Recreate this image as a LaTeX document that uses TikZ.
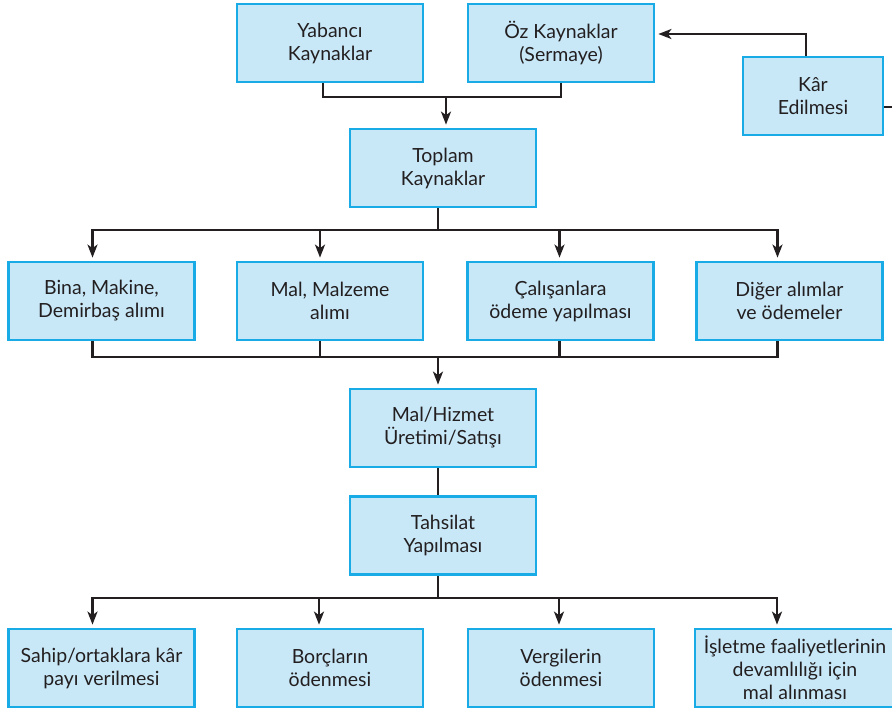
\documentclass[tikz,border=0pt]{standalone}
\usepackage{fontspec}
\setmainfont{Lato}
\usetikzlibrary{arrows.meta}
\definecolor{boxfill}{HTML}{C8E8F8}
\definecolor{boxline}{HTML}{18ABE6}
\definecolor{ink}{HTML}{231F20}
\tikzset{
    box/.style = {rectangle, draw=boxline, line width=2.8pt, fill=boxfill, align=center,
                  inner sep=0pt, minimum width=186pt, minimum height=78pt, text=ink,
                  font=\fontsize{19.5}{23}\selectfont},
    linen/.style = {line width=2.4pt, draw=ink},
    edgen/.style = {linen, -{Stealth[length=13pt,width=10pt,inset=3.5pt]}, shorten >=3pt},
}

\begin{document}
\begin{tikzpicture}[x=1pt,y=-1pt]
\useasboundingbox (0,0) rectangle (892,710);
% kaynaklar
\node[box] at (330, 43) (yab) {Yabancı\\Kaynaklar};
\node[box] at (561, 43) (oz) {Öz Kaynaklar\\(Sermaye)};
\node[box, minimum width=140pt] at (813, 96) (kar) {Kâr\\Edilmesi};
\node[box] at (443, 168) (toplam) {Toplam\\Kaynaklar};
% harcamalar
\node[box] at (101.5, 301) (bina) {Bina, Makine,\\Demirbaş alımı};
\node[box] at (330, 301) (mal) {Mal, Malzeme\\alımı};
\node[box] at (560.5, 301) (cal) {Çalışanlara\\ödeme yapılması};
\node[box] at (789.5, 301) (diger) {Diğer alımlar\\ve ödemeler};
% uretim
\node[box] at (443, 428) (malhiz) {Mal/Hizmet\\Üretimi/Satışı};
\node[box] at (443, 535.5) (tahsil) {Tahsilat\\Yapılması};
% dagitim
\node[box] at (101.5, 668) (sahip) {Sahip/ortaklara kâr\\payı verilmesi};
\node[box] at (330, 668) (borc) {Borçların\\ödenmesi};
\node[box] at (561, 668) (verg) {Vergilerin\\ödenmesi};
\node[box, minimum width=200pt] at (795, 668) (islet) {İşletme faaliyetlerinin\\devamlılığı için\\mal alınması};
% baglantilar
\coordinate (b1) at (446, 97);
\coordinate (b2) at (438, 230);
\coordinate (b3) at (438, 357);
\coordinate (b4) at (438, 598);
\coordinate (kout) at (892, 107);
\draw[linen] ([xshift=-7pt]yab.south) |- (b1) -| (oz.south);
\draw[edgen] (b1) -- (b1 |- toplam.north);
\draw[linen] ([xshift=-5pt]toplam.south) -- (b2);
\draw[edgen] (b2) -| ([xshift=-9pt]bina.north);
\draw[edgen] (b2) -| ([xshift=-10pt]mal.north);
\draw[edgen] (b2) -| ([xshift=-1pt]cal.north);
\draw[edgen] (b2) -| ([xshift=-12pt]diger.north);
\draw[linen] ([xshift=-9pt]bina.south) |- (b3);
\draw[linen] ([xshift=-10pt]mal.south) |- (b3);
\draw[linen] ([xshift=-1pt]cal.south) |- (b3);
\draw[linen] ([xshift=-12pt]diger.south) |- (b3);
\draw[edgen] (b3) -- (b3 |- malhiz.north);
\draw[linen] ([xshift=-5pt]malhiz.south) -- ([xshift=-5pt]tahsil.north);
\draw[linen] ([xshift=-5pt]tahsil.south) -- (b4);
\draw[edgen] (b4) -| ([xshift=-9pt]sahip.north);
\draw[edgen] (b4) -| ([xshift=-11pt]borc.north);
\draw[edgen] (b4) -| ([xshift=-2pt]verg.north);
\draw[edgen] (b4) -| ([xshift=-18pt]islet.north);
\draw[edgen] ([xshift=-7pt]kar.north) |- ([yshift=9pt]oz.east);
\draw[linen] (kar.east |- kout) -- (kout);
\end{tikzpicture}
\end{document}
